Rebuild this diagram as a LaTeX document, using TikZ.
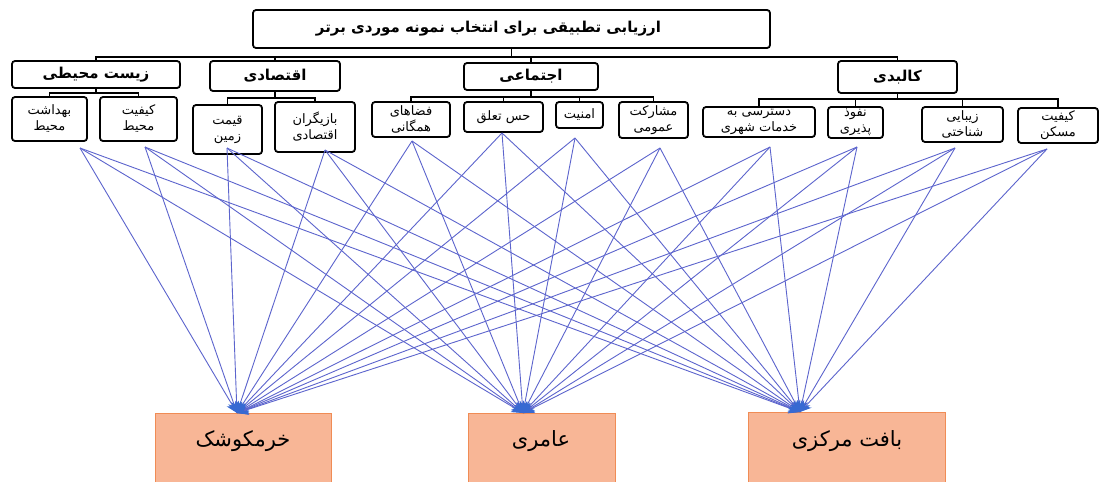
\documentclass[tikz,border=0pt]{standalone}
\usepackage{fontspec}
\usetikzlibrary{arrows.meta}
\TeXXeTstate=1
\newfontfamily\arabicfont[Script=Arabic]{DejaVu Sans}
\newcommand{\fatx}[1]{{\arabicfont\beginR #1\endR}}
\definecolor{linkblue}{RGB}{92,100,205}
\definecolor{arrowblue}{RGB}{55,105,210}
\definecolor{orangefill}{RGB}{248,182,150}
\definecolor{orangeedge}{RGB}{240,140,85}
\begin{document}
\begin{tikzpicture}[x=1pt,y=-1pt,
  box/.style={draw=black, line width=1.8pt, rounded corners=3pt, fill=white, inner sep=0pt, align=center},
  tbox/.style={box, font=\fontsize{15}{17}\selectfont\bfseries},
  cbox/.style={box, font=\fontsize{15}{17}\selectfont\bfseries},
  sbox/.style={box, font=\fontsize{13}{16}\selectfont},
  obox/.style={draw=orangeedge, line width=0.9pt, fill=orangefill, rectangle, inner sep=0pt},
  otext/.style={font=\fontsize{21}{24}\selectfont, text=black},
  tree/.style={draw=black, line width=1.3pt},
  link/.style={draw=linkblue, line width=0.9pt, -{Stealth[length=11pt,width=11pt,color=arrowblue]}},
]
\useasboundingbox (0,0) rectangle (1101,482);
\fill[white] (0,0) rectangle (1101,482);

% title
\node[tbox, minimum width=517pt, minimum height=38pt] (title) at (511.5,29) {\fatx{ارزیابی تطبیقی برای انتخاب نمونه موردی برتر}\hspace*{46pt}};

% categories
\node[cbox, minimum width=168pt, minimum height=27pt] (c1) at (96,74.5) {\fatx{زیست محیطی}};
\node[cbox, minimum width=130pt, minimum height=30pt] (c2) at (275,76) {\fatx{اقتصادی}};
\node[cbox, minimum width=134pt, minimum height=27pt] (c3) at (531,76.5) {\fatx{اجتماعی}};
\node[cbox, minimum width=119pt, minimum height=32pt] (c4) at (897.5,77) {\fatx{کالبدی}};

% sub criteria
\node[sbox, minimum width=75pt, minimum height=44pt] (s1) at (49.5,119) {\fatx{بهداشت}\\\fatx{محیط}};
\node[sbox, minimum width=77pt, minimum height=44pt] (s2) at (138.5,119) {\fatx{کیفیت}\\\fatx{محیط}};
\node[sbox, minimum width=69pt, minimum height=49pt] (s3) at (227.5,129.5) {\fatx{قیمت}\\\fatx{زمین}};
\node[sbox, minimum width=80pt, minimum height=50pt] (s4) at (315,127) {\fatx{بازیگران}\\\fatx{اقتصادی}};
\node[sbox, minimum width=78pt, minimum height=35pt] (s5) at (411,119.5) {\fatx{فضاهای}\\\fatx{همگانی}};
\node[sbox, minimum width=79pt, minimum height=30pt] (s6) at (503.5,117) {\fatx{حس تعلق}};
\node[sbox, minimum width=47pt, minimum height=26pt] (s7) at (579.5,115) {\fatx{امنیت}};
\node[sbox, minimum width=69pt, minimum height=36pt] (s8) at (653.5,120) {\fatx{مشارکت}\\\fatx{عمومی}};
\node[sbox, minimum width=112pt, minimum height=30pt] (s9) at (759,122) {\fatx{دسترسی به}\\\fatx{خدمات شهری}};
\node[sbox, minimum width=55pt, minimum height=31pt] (s10) at (855.5,122.5) {\fatx{نفوذ}\\\fatx{پذیری}};
\node[sbox, minimum width=81pt, minimum height=35pt] (s11) at (962.5,124.5) {\fatx{زیبایی}\\\fatx{شناختی}};
\node[sbox, minimum width=80pt, minimum height=35pt] (s12) at (1058,125.5) {\fatx{کیفیت}\\\fatx{مسکن}};

% tree connectors
\foreach \c in {c1,c2,c3,c4} \draw[tree] (title.south) -- ++(0,8) -| (\c.north);
\foreach \s in {s1,s2} \draw[tree] (c1.south) -- ++(0,4) -| (\s.north);
\foreach \s in {s3,s4} \draw[tree] (c2.south) -- ++(0,6) -| (\s.north);
\foreach \s in {s5,s6,s7,s8} \draw[tree] (c3.south) -- ++(0,6) -| (\s.north);
\foreach \s in {s9,s10,s11,s12} \draw[tree] (c4.south) -- ++(0,5) -| (\s.north);

% alternatives
\node[obox, minimum width=176pt, minimum height=90pt, anchor=north] (b1) at (243,413) {};
\node[obox, minimum width=147pt, minimum height=90pt, anchor=north] (b2) at (541.5,413) {};
\node[obox, minimum width=197pt, minimum height=90pt, anchor=north] (b3) at (846.5,412) {};
\node[otext] (b1t) at (243,441) {\fatx{خرمکوشک}};
\node[otext] (b2t) at (541,441) {\fatx{عامری}};
\node[otext] (b3t) at (847,441) {\fatx{بافت مرکزی}};

% link start points and arrow tips
\coordinate (a1) at (80,148);
\coordinate (a2) at (145,147);
\coordinate (a3) at (227,148);
\coordinate (a4) at (325,150);
\coordinate (a5) at (412,141);
\coordinate (a6) at (502,133);
\coordinate (a7) at (575,138);
\coordinate (a8) at (660,148);
\coordinate (a9) at (770,147);
\coordinate (a10) at (857,147);
\coordinate (a11) at (955,148);
\coordinate (a12) at (1047,149);
\coordinate (t1) at (237,413);
\coordinate (t2) at (523,413);
\coordinate (t3) at (800,412);

\foreach \s in {1,...,12} \foreach \t in {1,2,3} \draw[link] (a\s) -- (t\t);
\end{tikzpicture}
\end{document}
